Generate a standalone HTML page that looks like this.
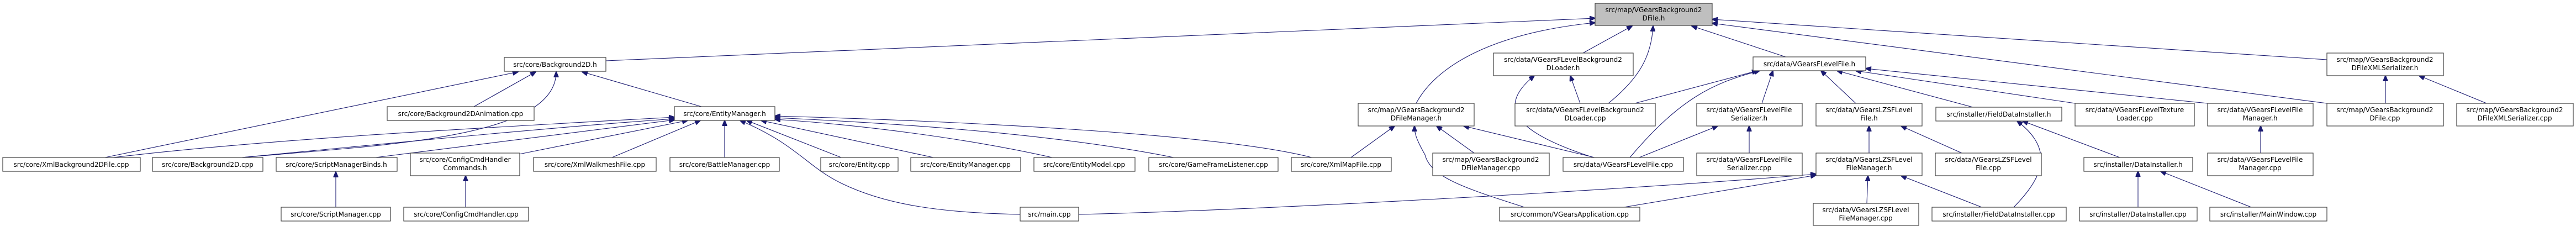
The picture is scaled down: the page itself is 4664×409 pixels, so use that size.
<!DOCTYPE html>
<html><head><meta charset="utf-8"><style>
html,body{margin:0;padding:0;background:#fff;}
svg{display:block}
text{font-family:"DejaVu Sans","Liberation Sans",sans-serif;font-size:12px;fill:#000;text-anchor:middle}
rect{fill:#fff;stroke:#404040;stroke-width:1.2}
path{fill:none;stroke:#191970;stroke-width:1.1}
</style></head><body>
<svg width="4664" height="409" viewBox="0 0 4664 409" xmlns="http://www.w3.org/2000/svg">
<defs><marker id="a" markerWidth="11" markerHeight="9" refX="10" refY="4.5" orient="auto" markerUnits="userSpaceOnUse"><path d="M0,0 L11,4.5 L0,9 Z" style="fill:#191970;stroke:#191970"/></marker></defs>
<g marker-end="url(#a)">
<!-- to top node -->
<path d="M1097,110 L2888,33"/>
<path d="M2564,187 C2600,120 2700,60 2888,41"/>
<path d="M2866,96 L2955,47"/>
<path d="M2912,187 C2970,140 2990,100 2993,47"/>
<path d="M3236,104 L3063,47"/>
<path d="M4213,108 L3100,35"/>
<path d="M4213,187 L3100,42"/>
<!-- Background2D.h -->
<path d="M190,285 L938,130"/>
<path d="M858,193 L970,130"/>
<path d="M438,285 C700,262 1007,250 1007,130"/>
<path d="M1270,193 L1054,130"/>
<!-- EntityManager.h -->
<path d="M205,285 C500,250 900,230 1221,212"/>
<path d="M438,285 C700,260 1000,230 1221,215"/>
<path d="M680,285 L1221,217"/>
<path d="M940,279 L1245,218"/>
<path d="M1108,285 L1268,218"/>
<path d="M1312,285 L1312,218"/>
<path d="M1847,388 C1700,385 1600,370 1520,330 C1460,300 1440,260 1340,218"/>
<path d="M1523,285 L1352,218"/>
<path d="M1690,285 L1378,218"/>
<path d="M1905,285 C1750,250 1550,225 1403,216"/>
<path d="M2125,285 C1900,240 1600,222 1403,213"/>
<path d="M2375,285 C2200,240 1700,218 1403,210"/>
<!-- Script/Config -->
<path d="M608,375 L608,311"/>
<path d="M843,375 L843,318"/>
<!-- FileManager.h -->
<path d="M2446,285 L2525,228"/>
<path d="M2669,277 L2601,228"/>
<path d="M2887,285 L2650,228"/>
<path d="M2760,375 C2650,340 2590,320 2580,280 C2563,250 2561,240 2561,228"/>
<!-- LoaderH -->
<path d="M2861,187 L2843,137"/>
<path d="M2885,285 C2760,245 2700,200 2778,137"/>
<!-- FLevelFile.h -->
<path d="M2960,187 L3182,128"/>
<path d="M2951,285 C3040,180 3100,150 3186,128"/>
<path d="M3190,187 L3210,128"/>
<path d="M3360,187 L3297,128"/>
<path d="M3572,194 L3326,128"/>
<path d="M3757,187 L3360,128"/>
<path d="M3997,187 L3378,124"/>
<!-- Serializer.h -->
<path d="M2968,285 L3110,228"/>
<path d="M3167,277 L3167,228"/>
<!-- LZS -->
<path d="M3384,277 L3384,228"/>
<path d="M3552,277 L3442,228"/>
<path d="M3380,368 L3382,318"/>
<path d="M3588,375 L3442,318"/>
<path d="M1953,388 C2300,380 3000,340 3288,315"/>
<path d="M2940,375 L3288,317"/>
<!-- installers -->
<path d="M3646,375 C3700,320 3720,270 3652,219"/>
<path d="M3838,285 L3662,219"/>
<path d="M3871,375 L3871,310"/>
<path d="M4076,375 L3912,310"/>
<path d="M4093,277 L4093,228"/>
<path d="M4319,187 L4319,137"/>
<path d="M4502,187 L4380,137"/>
</g>
<!-- nodes -->
<rect x="2888" y="6" width="212" height="40" style="fill:#bfbfbf"/><text x="2994" y="22">src/map/VGearsBackground2</text><text x="2994" y="37">DFile.h</text>

<rect x="913" y="104" width="184" height="25"/><text x="1005" y="121">src/core/Background2D.h</text>
<rect x="2704" y="96" width="253" height="41"/><text x="2830" y="112">src/data/VGearsFLevelBackground2</text><text x="2830" y="127">DLoader.h</text>
<rect x="3174" y="103" width="204" height="25"/><text x="3276" y="120">src/data/VGearsFLevelFile.h</text>
<rect x="4213" y="96" width="211" height="41"/><text x="4318" y="112">src/map/VGearsBackground2</text><text x="4318" y="127">DFileXMLSerializer.h</text>

<rect x="701" y="193" width="266" height="25"/><text x="834" y="210">src/core/Background2DAnimation.cpp</text>
<rect x="1221" y="193" width="182" height="25"/><text x="1312" y="210">src/core/EntityManager.h</text>
<rect x="2459" y="187" width="210" height="41"/><text x="2564" y="203">src/map/VGearsBackground2</text><text x="2564" y="218">DFileManager.h</text>
<rect x="2743" y="187" width="254" height="41"/><text x="2870" y="203">src/data/VGearsFLevelBackground2</text><text x="2870" y="218">DLoader.cpp</text>
<rect x="3072" y="187" width="191" height="41"/><text x="3167" y="203">src/data/VGearsFLevelFile</text><text x="3167" y="218">Serializer.h</text>
<rect x="3288" y="187" width="192" height="41"/><text x="3384" y="203">src/data/VGearsLZSFLevel</text><text x="3384" y="218">File.h</text>
<rect x="3505" y="194" width="228" height="25"/><text x="3619" y="211">src/installer/FieldDataInstaller.h</text>
<rect x="3757" y="187" width="216" height="41"/><text x="3865" y="203">src/data/VGearsFLevelTexture</text><text x="3865" y="218">Loader.cpp</text>
<rect x="3997" y="187" width="191" height="41"/><text x="4092" y="203">src/data/VGearsFLevelFile</text><text x="4092" y="218">Manager.h</text>
<rect x="4213" y="187" width="211" height="41"/><text x="4318" y="203">src/map/VGearsBackground2</text><text x="4318" y="218">DFile.cpp</text>
<rect x="4448" y="187" width="211" height="41"/><text x="4553" y="203">src/map/VGearsBackground2</text><text x="4553" y="218">DFileXMLSerializer.cpp</text>

<rect x="5" y="285" width="249" height="25"/><text x="129" y="302">src/core/XmlBackground2DFile.cpp</text>
<rect x="276" y="285" width="200" height="25"/><text x="376" y="302">src/core/Background2D.cpp</text>
<rect x="500" y="285" width="219" height="25"/><text x="609" y="302">src/core/ScriptManagerBinds.h</text>
<rect x="743" y="277" width="198" height="41"/><text x="842" y="293">src/core/ConfigCmdHandler</text><text x="842" y="308">Commands.h</text>
<rect x="966" y="285" width="222" height="25"/><text x="1077" y="302">src/core/XmlWalkmeshFile.cpp</text>
<rect x="1213" y="285" width="198" height="25"/><text x="1312" y="302">src/core/BattleManager.cpp</text>
<rect x="1486" y="285" width="140" height="25"/><text x="1556" y="302">src/core/Entity.cpp</text>
<rect x="1649" y="285" width="199" height="25"/><text x="1748" y="302">src/core/EntityManager.cpp</text>
<rect x="1872" y="285" width="183" height="25"/><text x="1963" y="302">src/core/EntityModel.cpp</text>
<rect x="2080" y="285" width="234" height="25"/><text x="2197" y="302">src/core/GameFrameListener.cpp</text>
<rect x="2338" y="285" width="181" height="25"/><text x="2428" y="302">src/core/XmlMapFile.cpp</text>
<rect x="2594" y="277" width="211" height="41"/><text x="2699" y="293">src/map/VGearsBackground2</text><text x="2699" y="308">DFileManager.cpp</text>
<rect x="2830" y="285" width="218" height="25"/><text x="2939" y="302">src/data/VGearsFLevelFile.cpp</text>
<rect x="3072" y="277" width="191" height="41"/><text x="3167" y="293">src/data/VGearsFLevelFile</text><text x="3167" y="308">Serializer.cpp</text>
<rect x="3288" y="277" width="192" height="41"/><text x="3384" y="293">src/data/VGearsLZSFLevel</text><text x="3384" y="308">FileManager.h</text>
<rect x="3504" y="277" width="192" height="41"/><text x="3600" y="293">src/data/VGearsLZSFLevel</text><text x="3600" y="308">File.cpp</text>
<rect x="3773" y="285" width="197" height="25"/><text x="3871" y="302">src/installer/DataInstaller.h</text>
<rect x="3997" y="277" width="191" height="41"/><text x="4092" y="293">src/data/VGearsFLevelFile</text><text x="4092" y="308">Manager.cpp</text>

<rect x="509" y="375" width="198" height="25"/><text x="608" y="392">src/core/ScriptManager.cpp</text>
<rect x="731" y="375" width="226" height="25"/><text x="844" y="392">src/core/ConfigCmdHandler.cpp</text>
<rect x="1847" y="375" width="106" height="25"/><text x="1900" y="392">src/main.cpp</text>
<rect x="2715" y="375" width="254" height="25"/><text x="2842" y="392">src/common/VGearsApplication.cpp</text>
<rect x="3283" y="368" width="191" height="40"/><text x="3378" y="384">src/data/VGearsLZSFLevel</text><text x="3378" y="399">FileManager.cpp</text>
<rect x="3498" y="375" width="243" height="25"/><text x="3619" y="392">src/installer/FieldDataInstaller.cpp</text>
<rect x="3765" y="375" width="213" height="25"/><text x="3871" y="392">src/installer/DataInstaller.cpp</text>
<rect x="4001" y="375" width="212" height="25"/><text x="4107" y="392">src/installer/MainWindow.cpp</text>
</svg>
</body></html>
